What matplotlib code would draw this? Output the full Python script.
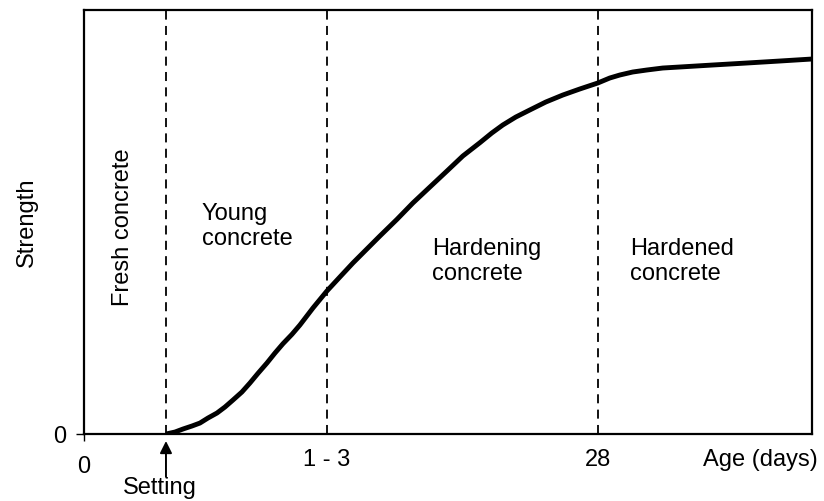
import matplotlib
matplotlib.use("Agg")
import matplotlib.pyplot as plt
import matplotlib.transforms as mtransforms

plt.rcParams["font.family"] = ["Liberation Sans", "DejaVu Sans"]
plt.rcParams["font.size"] = 17

# ---------------------------------------------------------------------------
# Data (x on a 0-100 schematic age scale, y on a 0-100 strength scale)
# ---------------------------------------------------------------------------
age = [11.26, 12.50, 13.60, 14.84, 15.93, 17.03, 18.27, 19.37, 20.47, 21.70,
       22.80, 23.90, 25.14, 26.24, 27.34, 28.57, 29.67, 31.46, 33.38, 35.16,
       36.95, 38.87, 40.66, 42.99, 45.19, 47.53, 49.86, 52.06, 54.40, 56.04,
       57.55, 59.34, 61.26, 63.46, 65.80, 68.13, 70.60, 72.25, 73.63, 75.41,
       77.34, 79.53, 81.87, 86.40, 91.07, 95.60, 100.0]
strength = [0.0, 0.47, 1.18, 1.89, 2.59, 3.77, 4.95, 6.37, 8.02, 9.91,
            12.03, 14.30, 16.75, 19.10, 21.30, 23.50, 25.71, 29.72, 33.73, 37.03,
            40.33, 43.63, 46.70, 50.60, 54.48, 58.25, 62.00, 65.57, 68.70, 70.99,
            72.88, 74.76, 76.42, 78.30, 79.95, 81.37, 82.78, 83.96, 84.67, 85.38,
            85.85, 86.32, 86.56, 87.03, 87.50, 87.97, 88.44]

stage_bounds = [11.26, 33.38, 70.60]        # setting, 1-3 days, 28 days
x_tick_pos = [0, 33.38, 70.60]
x_tick_labels = ["0", "1 - 3", "28"]

stage_labels = ["Young\nconcrete", "Hardening\nconcrete", "Hardened\nconcrete"]
stage_label_x = [16.2, 47.8, 75.0]
stage_label_y = [54.6, 46.3, 46.3]

# ---------------------------------------------------------------------------
fig = plt.figure(figsize=(8.24, 5.01), dpi=100)
ax = fig.add_axes([0.102, 0.1337, 0.883, 0.8463])

ax.plot(age, strength, color="black", linewidth=3.5,
        solid_capstyle="butt", solid_joinstyle="round")

for xb in stage_bounds:
    ax.axvline(xb, color="black", linewidth=1.3, linestyle=(0, (5, 3.5)))

ax.set_xlim(0, 100)
ax.set_ylim(0, 100)

for sp in ax.spines.values():
    sp.set_linewidth(1.6)

# ticks
ax.set_yticks([0])
ax.set_yticklabels(["0"])
ax.tick_params(axis="y", length=6, width=1, pad=6.5)
ax.set_xticks(x_tick_pos)
ax.set_xticklabels(x_tick_labels)
ax.tick_params(axis="x", length=5, width=1, pad=6)
for i, tk in enumerate(ax.xaxis.get_major_ticks()):
    if i > 0:
        tk.tick1line.set_visible(False)
# the "0" on the age axis sits a little lower
lbl0 = ax.get_xticklabels()[0]
lbl0.set_transform(lbl0.get_transform() +
                   mtransforms.ScaledTranslation(0, -0.07, fig.dpi_scale_trans))

ax.set_ylabel("Strength")
ax.yaxis.set_label_coords(-0.063, 0.5)
ax.text(1.008, -0.061, "Age (days)", transform=ax.transAxes,
        ha="right", va="center")

# stage annotations
ax.text(5.3, 48.8, "Fresh concrete", rotation=90, ha="center", va="center")
for lab, lx, ly in zip(stage_labels, stage_label_x, stage_label_y):
    ax.text(lx, ly, lab, ha="left", va="top", linespacing=1.2)

# setting arrow
ax.annotate("", xy=(stage_bounds[0], -1.65), xycoords="data",
            xytext=(stage_bounds[0], -10.1), textcoords="data",
            annotation_clip=False,
            arrowprops=dict(arrowstyle="-|>", color="black", lw=1.4,
                            mutation_scale=18, shrinkA=0, shrinkB=0))
ax.text(10.4, -12.7, "Setting", ha="center", va="center", clip_on=False)

fig.savefig("out.png", dpi=100)
